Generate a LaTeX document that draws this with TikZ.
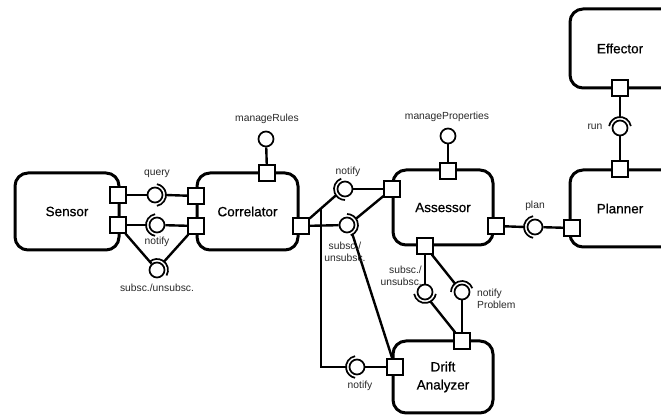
\documentclass[tikz,border=0pt]{standalone}
\usepackage{fontspec}
\setmainfont{Liberation Sans}
\newfontfamily\titlefont[FakeBold=0.6]{Liberation Sans}
\usetikzlibrary{positioning,calc}
\definecolor{lbltext}{RGB}{40,40,40}

\begin{document}
\begin{tikzpicture}[x=1pt,y=1pt,
    comp/.style={draw,line width=3pt,rounded corners=13pt,minimum height=77pt,minimum width=100pt,align=center,font=\titlefont\fontsize{13.5}{18}\selectfont},
    port/.style={draw,fill=white,line width=1.4pt,minimum size=16pt,inner sep=0pt},
    ball/.style={draw,fill=white,circle,line width=1.7pt,minimum size=15pt,inner sep=0pt},
    socket/.style={line width=1.7pt},
    wire/.style={line width=2.4pt},
    lbl/.style={font=\fontsize{10.3}{12}\selectfont,text=lbltext,inner sep=1pt}]
    \useasboundingbox (0,0) rectangle (661,417);

    % components
    \node[comp,minimum width=104pt] (sensor) at (67,205.5) {Sensor};
    \node[comp,minimum width=101pt] (correlator) at (247.5,205.5) {Correlator};
    \node[comp,minimum height=75pt] (assessor) at (443,209.5) {Assessor};
    \node[comp,minimum width=140pt] (planner) at (640,208.5) {\hspace*{-40pt}Planner};
    \node[comp,minimum width=140pt,minimum height=79pt] (effector) at (640,368.5) {\hspace*{-40pt}Effector};
    \node[comp,minimum height=72pt] (drift) at (443,40) {Drift\\Analyzer};

    % ports
    \foreach \n/\x/\y in {s1/118/222,s2/118/192,c1/196/221,c2/196/191,ctop/267/244,cright/301/191,
        aleft/392/228,atop/448/246,abot/425/171,aright/496/191,pleft/572/189,ptop/620/248,
        ebot/620/329,dleft/395/50,dtop/462/76}{
      \node[port] (\n) at (\x,\y) {};
    }

    % provided interfaces
    \foreach \n/\x/\y in {query/155/222,notifyS/157/192,subscS/157/147,rules/266/278,props/448/281,
        notifyA/345/228,subscA/347/192,notifyD/357/50,plan/535/190,run/620/289,subscD/425/125,notifyP/462/125}{
      \node[ball] (\n) at (\x,\y) {};
    }

    % required interfaces
    \foreach \b/\a in {query/0,notifyS/180,subscS/50,notifyA/190,subscA/10,notifyD/180,plan/180,run/90,subscD/270,notifyP/100}{
      \draw[socket] ([shift={(\a-80:11pt)}]\b.center) arc[start angle=\a-80,delta angle=160,radius=11pt];
    }
    \foreach \c/\b/\a in {qs/query/0,nss/notifyS/180,sss/subscS/50,nas/notifyA/215,sas1/subscA/35,sas2/subscA/-60,
        nds/notifyD/180,pls/plan/180,rus/run/90,sds/subscD/300,nps/notifyP/130}{
      \coordinate (\c) at ([shift={(\a:11pt)}]\b.center);
    }

    % connectors
    \draw[wire] (s1) -- (query);
    \draw[wire] (c1) -- (qs);
    \draw[wire] (s2) -- (nss);
    \draw[wire] (notifyS) -- (c2);
    \draw[wire] (s2) -- (subscS);
    \draw[wire] (c2) -- (sss);
    \draw[wire] (ctop) -- (rules);
    \draw[wire] (cright) -- (nas);
    \draw[wire] (notifyA) -- (aleft);
    \draw[wire] (cright) -- (subscA);
    \draw[wire] (sas1) -- (aleft);
    \draw[wire] (sas2) -- (dleft);
    \coordinate (tap) at ($(cright)!0.58!(nas)$);
    \draw[wire] (tap) |- (nds);
    \draw[wire] (notifyD) -- (dleft);
    \draw[wire] (atop) -- (props);
    \draw[wire] (aright) -- (pls);
    \draw[wire] (plan) -- (pleft);
    \draw[wire] (ebot) -- (rus);
    \draw[wire] (run) -- (ptop);
    \draw[wire] (abot) -- (subscD);
    \draw[wire] (sds) -- (dtop);
    \draw[wire] (abot) -- (nps);
    \draw[wire] (notifyP) -- (dtop);

    % labels
    \node[lbl] (l-query) at (157,243) {query};
    \node[lbl] (l-notifyS) at (157,175) {notify};
    \node[lbl] (l-subscS) at (157,129) {subsc./unsubsc.};
    \node[lbl] (l-rules) at (267,298) {manageRules};
    \node[lbl] (l-props) at (447,300) {manageProperties};
    \node[lbl] (l-notifyA) at (348,245) {notify};
    \node[lbl,align=center] (l-subscA) at (345,165) {subsc./\\unsubsc.};
    \node[lbl,align=right,anchor=east] (l-subscD) at (423,141) {subsc./\\unsubsc.};
    \node[lbl,align=left,anchor=west] (l-notifyP) at (476,118) {notify\\Problem};
    \node[lbl] (l-notifyD) at (360,31) {notify};
    \node[lbl] (l-plan) at (535,211) {plan};
    \node[lbl] (l-run) at (595,290) {run};
  \end{tikzpicture}
\end{document}
